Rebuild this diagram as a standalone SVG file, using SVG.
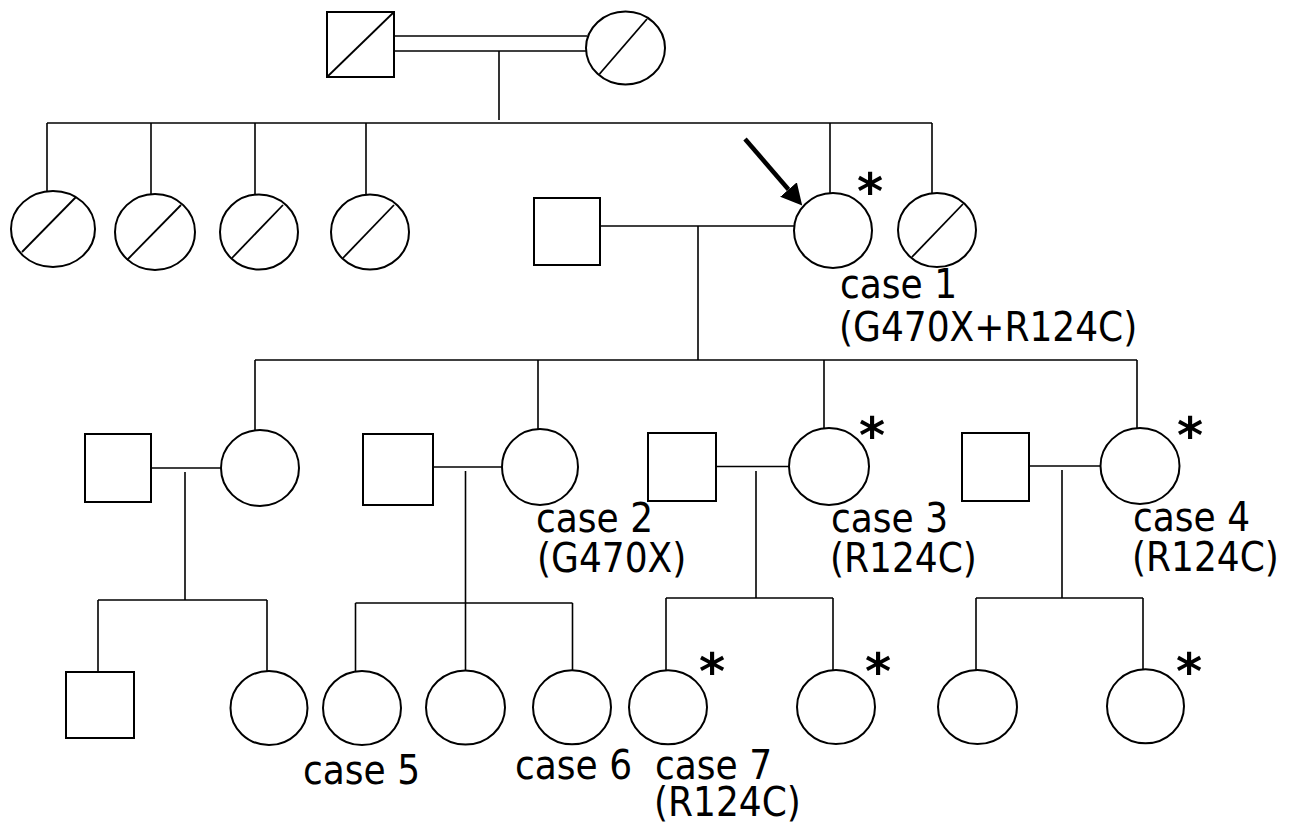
<svg xmlns="http://www.w3.org/2000/svg" width="1302" height="827" viewBox="0 0 1302 827">
<style>
.ln{stroke:#000;stroke-width:1.6;fill:none}
.sh{stroke:#000;stroke-width:2;fill:#fff}
.sl{stroke:#000;stroke-width:1.8;fill:none}
.lbl{font-family:"DejaVu Sans Condensed","DejaVu Sans",sans-serif;font-stretch:condensed;font-size:40px;fill:#000}
.star{font-family:"DejaVu Sans",sans-serif;font-weight:bold;font-size:50px;text-anchor:middle;fill:#000}
</style>
<defs>
<marker id="ah" markerUnits="userSpaceOnUse" markerWidth="21" markerHeight="22" viewBox="0 0 21 22" refX="0" refY="11" orient="auto">
<path d="M0,0 L21,11 L0,22 Z" fill="#000"/>
</marker>
</defs>
<rect width="1302" height="827" fill="#fff"/>
<g id="connectors">
<line class="ln" x1="394" y1="36" x2="587" y2="36"/>
<line class="ln" x1="394" y1="51" x2="587" y2="51"/>
<line class="ln" x1="499" y1="51" x2="499" y2="120"/>
<line class="ln" x1="47" y1="123" x2="932" y2="123"/>
<line class="ln" x1="47" y1="123" x2="47" y2="191"/>
<line class="ln" x1="151" y1="123" x2="151" y2="194"/>
<line class="ln" x1="255" y1="123" x2="255" y2="194"/>
<line class="ln" x1="366" y1="123" x2="366" y2="194"/>
<line class="ln" x1="830" y1="123" x2="830" y2="193"/>
<line class="ln" x1="932" y1="123" x2="932" y2="193"/>
<line class="ln" x1="600" y1="226" x2="794" y2="226"/>
<line class="ln" x1="698" y1="226" x2="698" y2="360"/>
<line class="ln" x1="255" y1="360" x2="1137" y2="360"/>
<line class="ln" x1="255" y1="360" x2="255" y2="430"/>
<line class="ln" x1="538" y1="360" x2="538" y2="429"/>
<line class="ln" x1="824" y1="360" x2="824" y2="428"/>
<line class="ln" x1="1137" y1="360" x2="1137" y2="428"/>
<line class="ln" x1="151" y1="468" x2="221" y2="468"/>
<line class="ln" x1="185" y1="472" x2="185" y2="600"/>
<line class="ln" x1="98" y1="600" x2="267" y2="600"/>
<line class="ln" x1="98" y1="600" x2="98" y2="672"/>
<line class="ln" x1="267" y1="600" x2="267" y2="671"/>
<line class="ln" x1="433" y1="467" x2="502" y2="467"/>
<line class="ln" x1="465.5" y1="471" x2="465.5" y2="671"/>
<line class="ln" x1="355.5" y1="603" x2="572.5" y2="603"/>
<line class="ln" x1="355.5" y1="603" x2="355.5" y2="672"/>
<line class="ln" x1="572.5" y1="603" x2="572.5" y2="671"/>
<line class="ln" x1="716" y1="466.5" x2="790" y2="466.5"/>
<line class="ln" x1="756" y1="471" x2="756" y2="598"/>
<line class="ln" x1="666" y1="598" x2="833" y2="598"/>
<line class="ln" x1="666" y1="598" x2="666" y2="671"/>
<line class="ln" x1="833" y1="598" x2="833" y2="670"/>
<line class="ln" x1="1029" y1="466" x2="1101" y2="466"/>
<line class="ln" x1="1062" y1="470" x2="1062" y2="598"/>
<line class="ln" x1="976" y1="598" x2="1143" y2="598"/>
<line class="ln" x1="976" y1="598" x2="976" y2="670"/>
<line class="ln" x1="1143" y1="598" x2="1143" y2="669"/>
<line x1="745" y1="139" x2="788.5" y2="189.5" stroke="#000" stroke-width="4.5" marker-end="url(#ah)"/>
</g>
<g id="I-1"><rect class="sh" x="327" y="12" width="67" height="65"/><line class="sl" x1="327" y1="77" x2="394" y2="12"/></g>
<g id="I-2"><ellipse class="sh" cx="625.5" cy="48" rx="39.5" ry="36.5"/><line class="sl" x1="599.5" y1="74" x2="647" y2="19"/></g>
<g id="II-1"><ellipse class="sh" cx="53" cy="229" rx="42" ry="38"/><line class="sl" x1="22" y1="252" x2="76" y2="197"/></g>
<g id="II-2"><ellipse class="sh" cx="155" cy="232" rx="40" ry="38"/><line class="sl" x1="127" y1="260" x2="181" y2="205"/></g>
<g id="II-3"><ellipse class="sh" cx="259" cy="232" rx="39" ry="37.5"/><line class="sl" x1="232" y1="258" x2="283" y2="205"/></g>
<g id="II-4"><ellipse class="sh" cx="370" cy="232" rx="39" ry="37.5"/><line class="sl" x1="343" y1="258" x2="394" y2="205"/></g>
<g id="II-5"><rect class="sh" x="534" y="198" width="66" height="67"/></g>
<g id="II-6"><ellipse class="sh" cx="833" cy="230.5" rx="39" ry="37.5"/><text class="star" x="870" y="209">*</text>
<text class="lbl"><tspan x="840" y="298">case 1</tspan><tspan x="839" y="341">(G470X+R124C)</tspan></text></g>
<g id="II-7"><ellipse class="sh" cx="937" cy="230" rx="39" ry="37"/><line class="sl" x1="912" y1="257" x2="963" y2="204"/></g>
<g id="III-1"><rect class="sh" x="85" y="434" width="66" height="68"/></g>
<g id="III-2"><ellipse class="sh" cx="260" cy="468" rx="39" ry="38"/></g>
<g id="III-3"><rect class="sh" x="363" y="434" width="70" height="71"/></g>
<g id="III-4"><ellipse class="sh" cx="540" cy="467" rx="38" ry="38"/>
<text class="lbl"><tspan x="536" y="532">case 2</tspan><tspan x="537" y="572">(G470X)</tspan></text></g>
<g id="III-5"><rect class="sh" x="648" y="433" width="68" height="68"/></g>
<g id="III-6"><ellipse class="sh" cx="829" cy="466.5" rx="40" ry="38.5"/><text class="star" x="872" y="453">*</text>
<text class="lbl"><tspan x="831" y="532">case 3</tspan><tspan x="830" y="572">(R124C)</tspan></text></g>
<g id="III-7"><rect class="sh" x="962" y="433" width="67" height="68"/></g>
<g id="III-8"><ellipse class="sh" cx="1140" cy="466" rx="39.5" ry="38"/><text class="star" x="1190" y="453">*</text>
<text class="lbl"><tspan x="1133" y="531">case 4</tspan><tspan x="1132" y="571">(R124C)</tspan></text></g>
<g id="IV-1"><rect class="sh" x="66" y="672" width="68" height="66"/></g>
<g id="IV-2"><ellipse class="sh" cx="269" cy="708" rx="38.5" ry="37"/></g>
<g id="IV-3"><ellipse class="sh" cx="362" cy="708" rx="39" ry="37"/><text class="lbl" x="303" y="784">case 5</text></g>
<g id="IV-4"><ellipse class="sh" cx="465.5" cy="707.5" rx="39.5" ry="37"/></g>
<g id="IV-5"><ellipse class="sh" cx="572" cy="707.3" rx="39" ry="37"/><text class="lbl" x="515" y="779">case 6</text></g>
<g id="IV-6"><ellipse class="sh" cx="668" cy="707.3" rx="39" ry="37"/><text class="star" x="712" y="689">*</text>
<text class="lbl"><tspan x="655" y="779">case 7</tspan><tspan x="654" y="816">(R124C)</tspan></text></g>
<g id="IV-7"><ellipse class="sh" cx="836" cy="707" rx="39" ry="37"/><text class="star" x="878" y="689">*</text></g>
<g id="IV-8"><ellipse class="sh" cx="977.5" cy="707" rx="39.5" ry="37"/></g>
<g id="IV-9"><ellipse class="sh" cx="1145.5" cy="706.3" rx="38.5" ry="37"/><text class="star" x="1189" y="689">*</text></g>
</svg>
